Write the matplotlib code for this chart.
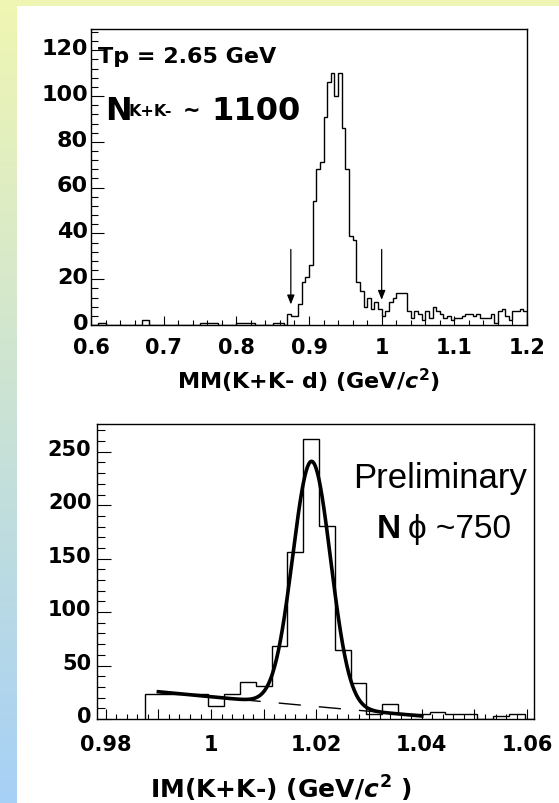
import numpy as np
import matplotlib.pyplot as plt
from matplotlib.ticker import MultipleLocator, FuncFormatter
from matplotlib.patches import Rectangle
import matplotlib.transforms as mtransforms

plt.rcParams['font.family'] = ['DejaVu Sans']
plt.rcParams['font.weight'] = 'bold'

W, H = 559, 804

# K+K- missing mass, 5 MeV bins between 0.6 and 1.2 GeV/c2
mm_edges = np.round(np.arange(0.6, 1.2001, 0.005), 4)
mm_counts = [
    0, 0, 1, 1, 0, 0, 0, 0, 0, 0,
    0, 0, 0, 0, 2, 2, 0, 0, 0, 0,
    0, 0, 0, 0, 0, 0, 0, 0, 0, 0,
    1, 1, 1, 1, 1, 0, 0, 0, 0, 0,
    1, 1, 1, 1, 1, 0, 0, 0, 0, 0,
    1, 1, 1, 0, 5, 4, 4, 9, 19, 21,
    26, 54, 68, 71, 91, 106, 110, 100, 110, 86,
    68, 39, 37, 19, 15, 8, 12, 7, 10, 7,
    4, 6, 10, 12, 14, 14, 14, 6, 3, 6,
    5, 2, 6, 3, 8, 6, 5, 3, 4, 2,
    3, 3, 4, 5, 5, 4, 5, 3, 3, 3,
    5, 1, 6, 7, 4, 2, 6, 6, 7, 6,
]
mm_cuts = [0.875, 1.0]
mm_cut_tips = [9, 11]
mm_cut_top = 33

# K+K- invariant mass, 3 MeV bins from threshold
im_edges = np.round(0.9875 + 0.003 * np.arange(26), 4)
im_counts = [23, 23, 23, 23, 12, 23, 35, 31, 68, 156,
             262, 181, 65, 34, 5, 14, 5, 5, 7, 5,
             5, 0, 3, 5, 0]

# phi peak fit: gaussian + quadratic background
fit_amp, fit_mean, fit_sigma = 229.0, 1.0191, 0.0036
bg_p0, bg_p1, bg_p2 = 20.8, -465.0, 389.0
fit_range = (0.990, 1.040)


def background(x):
    u = x - 1.0
    return bg_p0 + bg_p1 * u + bg_p2 * u ** 2


def fit_func(x):
    return fit_amp * np.exp(-0.5 * ((x - fit_mean) / fit_sigma) ** 2) + background(x)


def put(x, y, s, **kw):
    # place text by pixel position, y measured from the top
    return fig.text(x / W, 1 - y / H, s, **kw)


def raise_ylabels(ax, pts):
    off = mtransforms.ScaledTranslation(0, pts / 72, fig.dpi_scale_trans)
    for t in ax.yaxis.get_major_ticks():
        t.label1.set_transform(t.label1.get_transform() + off)


fig = plt.figure(figsize=(W / 100, H / 100), dpi=100)

# page background: yellow -> blue strip on the left, white sheet
bg = fig.add_axes([0, 0, 1, 1], zorder=-10)
top_col = np.array([240, 246, 178]) / 255
bot_col = np.array([166, 208, 246]) / 255
t = np.linspace(0, 1, H)[:, None, None]
bg.imshow(top_col * (1 - t) + bot_col * t, aspect='auto', extent=(0, W, H, 0))
bg.add_patch(Rectangle((17, 7), W - 17, H - 7, color='white', lw=0))
bg.set_xlim(0, W)
bg.set_ylim(H, 0)
bg.axis('off')

# ---- upper panel: missing mass ----
ax1 = fig.add_axes([91 / W, 1 - 326 / H, 436 / W, 296 / H])
ax1.stairs(mm_counts, mm_edges, color='black', lw=1.0)
for xc, tip in zip(mm_cuts, mm_cut_tips):
    ax1.annotate('', xy=(xc, tip), xytext=(xc, mm_cut_top),
                 arrowprops=dict(arrowstyle='-|>,head_length=0.55,head_width=0.22',
                                 color='black', lw=0.9, shrinkA=0, shrinkB=0))
ax1.set_xlim(0.6, 1.2)
ax1.set_ylim(0, 129.3)
ax1.xaxis.set_major_locator(MultipleLocator(0.1))
ax1.xaxis.set_minor_locator(MultipleLocator(0.02))
ax1.xaxis.set_major_formatter(FuncFormatter(lambda v, p: f'{v:g}'))
ax1.yaxis.set_major_locator(MultipleLocator(20))
ax1.yaxis.set_minor_locator(MultipleLocator(4))
ax1.tick_params(axis='both', which='both', direction='in', top=False, right=False, width=0.8)
ax1.tick_params(axis='y', which='major', length=9.5, labelsize=16, pad=2)
ax1.tick_params(axis='y', which='minor', length=5)
ax1.tick_params(axis='x', which='major', length=6.5, labelsize=15, pad=8.5)
ax1.tick_params(axis='x', which='minor', length=3.5)
for s in ax1.spines.values():
    s.set_linewidth(1.0)
raise_ylabels(ax1, 3)

put(98, 63, 'Tp = 2.65 GeV', fontsize=16, va='baseline')
put(105, 120, 'N', fontsize=23, va='baseline')
put(128, 116, 'K+K-', fontsize=11.5, va='baseline')
put(192, 111, '~', fontsize=15, ha='center', va='center')
put(211, 120, '1100', fontsize=23, va='baseline')
put(309, 381, r'MM(K+K- d) (GeV/$c^{2}$)', fontsize=16, ha='center', va='center')

# ---- lower panel: invariant mass ----
ax2 = fig.add_axes([97 / W, 1 - 720 / H, 437 / W, 295 / H])
ax2.stairs(im_counts, im_edges, color='black', lw=1.0)
xf = np.linspace(fit_range[0], fit_range[1], 400)
ax2.plot(xf, background(xf), color='black', lw=1.0, dashes=(16, 13))
ax2.plot(xf, fit_func(xf), color='black', lw=2.6)
ax2.set_xlim(0.97835, 1.0613)
ax2.set_ylim(0, 276)
ax2.xaxis.set_major_locator(MultipleLocator(0.01))
ax2.xaxis.set_minor_locator(MultipleLocator(0.002))
ax2.xaxis.set_major_formatter(
    FuncFormatter(lambda v, p: f'{v:g}' if round(v * 100) % 2 == 0 else ''))
ax2.yaxis.set_major_locator(MultipleLocator(50))
ax2.yaxis.set_minor_locator(MultipleLocator(10))
ax2.tick_params(axis='both', which='both', direction='in', top=False, right=False, width=0.8)
ax2.tick_params(axis='y', which='major', length=10, labelsize=15, pad=4)
ax2.tick_params(axis='y', which='minor', length=6)
ax2.tick_params(axis='x', which='major', length=7, labelsize=15, pad=11)
ax2.tick_params(axis='x', which='minor', length=3.5)
for s in ax2.spines.values():
    s.set_linewidth(1.0)
raise_ylabels(ax2, 3.5)

put(527, 488, 'Preliminary', fontsize=25, fontweight='normal', ha='right',
    va='baseline', family=['Liberation Sans', 'DejaVu Sans'])
put(401, 538, 'N', fontsize=24, fontweight='bold', ha='right', va='baseline',
    family=['Liberation Sans', 'DejaVu Sans'])
put(511, 538, '\u03d5 ~750', fontsize=24, fontweight='normal', ha='right',
    va='baseline', family=['Liberation Sans', 'DejaVu Sans'])
put(281, 789, r'IM(K+K-) (GeV/$c^{2}$ )', fontsize=18, ha='center', va='center')

fig.savefig('out.png', dpi=100)
